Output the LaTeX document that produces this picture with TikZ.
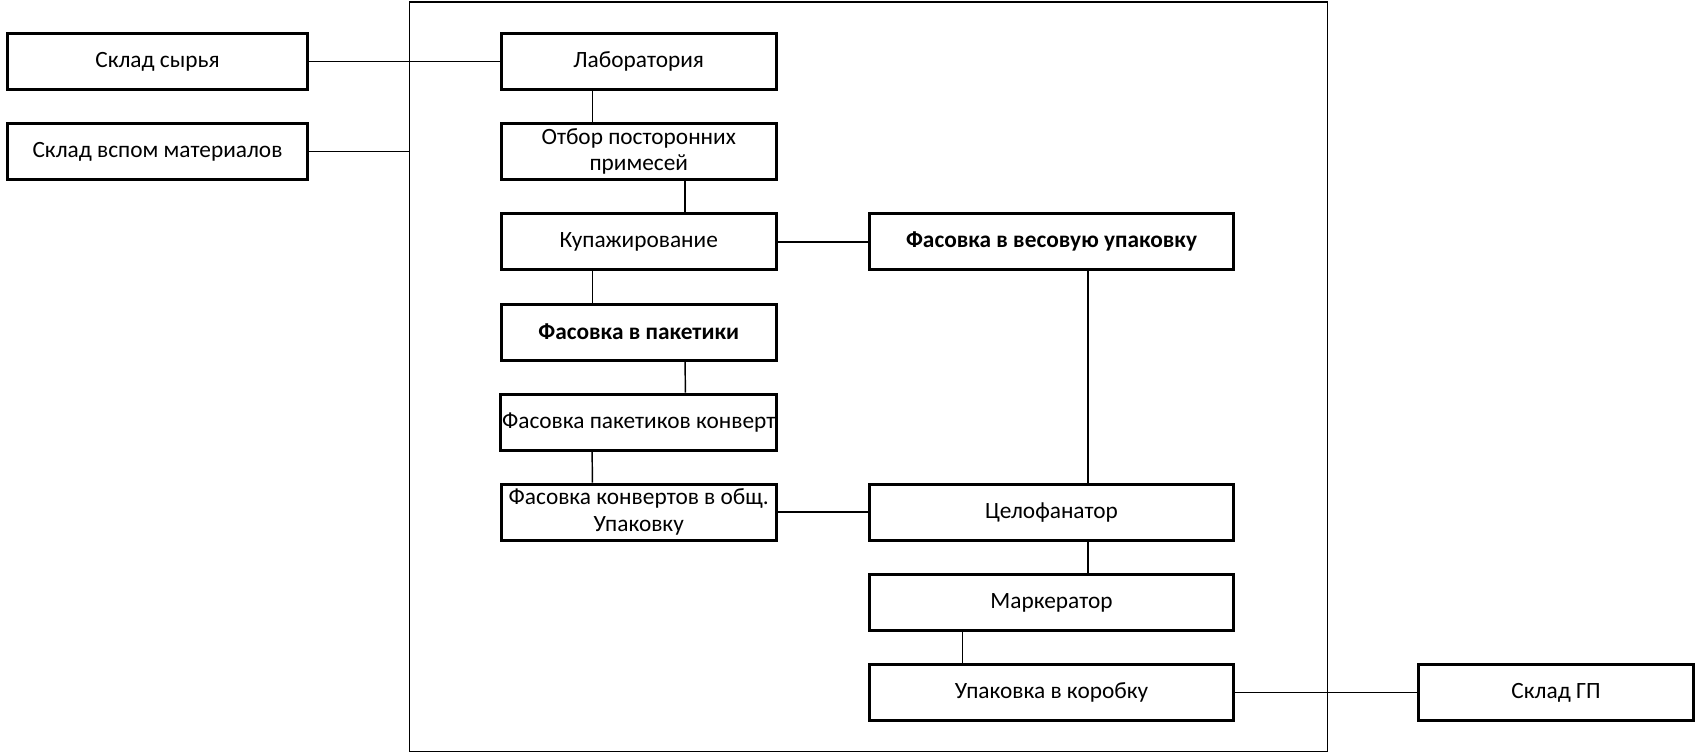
\documentclass[tikz,border=0pt]{standalone}
\usepackage{fontspec}
\setmainfont{Carlito}
\usetikzlibrary{calc}

\tikzset{every picture/.style={line width=0.75pt}}
\tikzset{
stagebox/.style={draw, line width=2.25pt, minimum height=42pt, inner sep=1pt, align=center, font=\fontsize{17.5}{20}\selectfont},
midbox/.style={stagebox, minimum width=206pt},
rightbox/.style={stagebox, minimum width=273pt},
sidebox/.style={stagebox, minimum width=225pt},
connline/.style={line width=1.1pt}
}

\begin{document}
\begin{tikzpicture}[x=0.75pt,y=0.75pt,yscale=-1,xscale=1]
\useasboundingbox (0,0) rectangle (1695,753);

%Shape: Rectangle [id:frame]
\node[draw, line width=1.1pt, minimum width=688.5pt, minimum height=562pt, inner sep=0pt] (frame) at (868.5,376.75) {};

%Shape: Rectangle [id:warehouses]
\node[sidebox] (sklsyr) at (157.5,61.5) {Склад сырья};
\node[sidebox] (sklvsp) at (157.5,151.6) {Склад вспом материалов};
\node[midbox] (sklgp) at (1556,692.5) {Склад ГП};

%Shape: Rectangle [id:left column]
\node[midbox] (lab) at (638.75,61.5) {Лаборатория};
\node[midbox] (otb) at (638.75,151.6) {Отбор посторонних\\примесей};
\node[midbox] (kup) at (638.75,241.8) {Купажирование};
\node[midbox, font=\fontsize{17.5}{20}\selectfont\bfseries] (fpak) at (638.75,332) {Фасовка в пакетики};
\node[midbox] (fkonv) at (638.75,422.1) {Фасовка пакетиков конверт};
\node[midbox] (fobsh) at (638.75,512.2) {Фасовка конвертов в общ.\\Упаковку};

%Shape: Rectangle [id:right column]
\node[rightbox, font=\fontsize{17.5}{20}\selectfont\bfseries] (fves) at (1051.5,241.8) {Фасовка в весовую упаковку};
\node[rightbox] (cel) at (1051.5,512.2) {Целофанатор};
\node[rightbox] (mark) at (1051.5,602.4) {Маркератор};
\node[rightbox] (upak) at (1051.5,692.5) {Упаковка в коробку};

%Straight Lines [id:inputs]
\draw[connline] (sklsyr.east) -- (lab.west);
\draw[connline] (sklvsp.east) -- (sklvsp.east -| frame.west);

%Straight Lines [id:left chain]
\draw[connline] ($(lab.south west)!0.333!(lab.south east)$) -- ($(otb.north west)!0.333!(otb.north east)$);
\draw[connline] ($(otb.south west)!0.667!(otb.south east)$) -- ($(kup.north west)!0.667!(kup.north east)$);
\draw[connline] ($(kup.south west)!0.333!(kup.south east)$) -- ($(fpak.north west)!0.333!(fpak.north east)$);
\draw[connline] ($(fpak.south west)!0.667!(fpak.south east)$) -- ($(fkonv.north west)!0.667!(fkonv.north east)$);
\draw[connline] ($(fkonv.south west)!0.333!(fkonv.south east)$) -- ($(fobsh.north west)!0.333!(fobsh.north east)$);

%Straight Lines [id:cross links]
\draw[connline] (kup.east) -- (fves.west);
\draw[connline] (fobsh.east) -- (cel.west);

%Straight Lines [id:right chain]
\draw[connline] ($(fves.south west)!0.6!(fves.south east)$) -- ($(cel.north west)!0.6!(cel.north east)$);
\draw[connline] ($(cel.south west)!0.6!(cel.south east)$) -- ($(mark.north west)!0.6!(mark.north east)$);
\draw[connline] ($(mark.south west)!0.257!(mark.south east)$) -- ($(upak.north west)!0.257!(upak.north east)$);

%Straight Lines [id:output]
\draw[connline] (upak.east) -- (sklgp.west);

\end{tikzpicture}
\end{document}
